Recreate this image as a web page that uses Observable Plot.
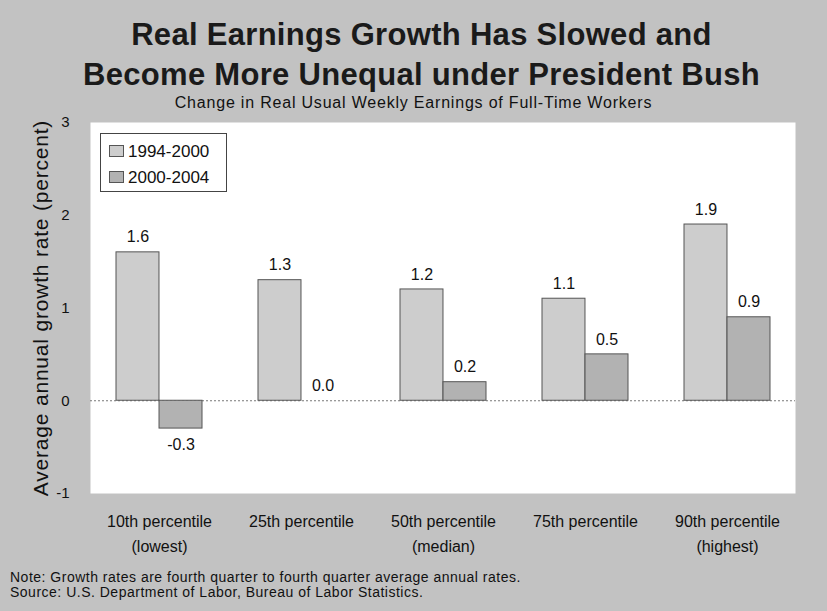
<!DOCTYPE html>
<html><head><meta charset="utf-8">
<script src="https://cdn.jsdelivr.net/npm/d3@7"></script>
<script src="https://cdn.jsdelivr.net/npm/@observablehq/plot@0.6"></script>
<style>
html,body{margin:0;padding:0;background:#c2c2c2;}
body{width:827px;height:611px;position:relative;overflow:hidden;font-family:"Liberation Sans",Arial,sans-serif;color:#111;}
#title{position:absolute;left:0;top:15px;width:827px;padding-left:16px;box-sizing:border-box;text-align:center;font-weight:bold;font-size:31px;letter-spacing:0.3px;line-height:40px;color:#1a1a1a;}
#subtitle{position:absolute;left:0;top:95px;width:827px;text-align:center;font-size:16px;letter-spacing:0.8px;line-height:16px;}
#chart{position:absolute;left:0;top:112px;}
#chart g[aria-label="y-axis label"] text{letter-spacing:0.8px;}
#legend{position:absolute;left:100px;top:133px;width:127px;height:59px;background:#fff;border:1px solid #444;box-sizing:border-box;font-size:17px;}
#legend div{position:absolute;left:8px;height:20px;line-height:20px;}
#legend span{display:inline-block;width:13px;height:10px;border:1px solid #555;margin-right:4px;vertical-align:0px;}
#notes{position:absolute;left:10px;top:570px;font-size:14px;letter-spacing:0.5px;line-height:15px;}
</style></head>
<body>
<div id="title">Real Earnings Growth Has Slowed and<br>Become More Unequal under President Bush</div>
<div id="subtitle">Change in Real Usual Weekly Earnings of Full-Time Workers</div>
<div id="chart"></div>
<div id="legend"></div>
<div id="notes">Note: Growth rates are fourth quarter to fourth quarter average annual rates.<br>Source: U.S. Department of Labor, Bureau of Labor Statistics.</div>
<script>
const groups = ["10th percentile\n(lowest)", "25th percentile", "50th percentile\n(median)", "75th percentile", "90th percentile\n(highest)"];
const series = ["1994-2000", "2000-2004"];
const values1994_2000 = [1.6, 1.3, 1.2, 1.1, 1.9];
const values2000_2004 = [-0.3, 0.0, 0.2, 0.5, 0.9];
const yTicks = [-1, 0, 1, 2, 3];
const colors = ["#cdcdcd", "#b2b2b2"];

const W = 827, H = 450, mL = 90, mR = 32, mT = 10, mB = 69;
const pIn = 0.395, pOut = 0.176;
const bw = d3.scaleBand().domain(groups).range([mL, W - mR]).paddingInner(pIn).paddingOuter(pOut).bandwidth();
const half = bw / 2;

const d1 = groups.map((g, i) => ({group: g, series: series[0], value: values1994_2000[i]}));
const d2 = groups.map((g, i) => ({group: g, series: series[1], value: values2000_2004[i]}));

const font = "'Liberation Sans', Arial, sans-serif";
const labelMarks = [];
[[d1, -half / 2], [d2, half / 2]].forEach(([arr, dx]) => {
  labelMarks.push(Plot.text(arr.filter(d => d.value >= 0), {x: "group", y: "value", text: d => d.value.toFixed(1), dx, dy: -15, fontSize: 16}));
  labelMarks.push(Plot.text(arr.filter(d => d.value < 0), {x: "group", y: "value", text: d => d.value.toFixed(1), dx, dy: 16, fontSize: 16}));
});

const plot = Plot.plot({
  width: W,
  height: H,
  marginTop: mT,
  marginBottom: mB,
  marginLeft: mL,
  marginRight: mR,
  style: {fontFamily: font, background: "transparent", color: "#111"},
  x: {domain: groups, paddingInner: pIn, paddingOuter: pOut, label: null},
  y: {domain: [-1, 3], label: null},
  color: {domain: series, range: colors},
  marks: [
    Plot.frame({fill: "white", stroke: "none"}),
    Plot.axisX({anchor: "bottom", tickSize: 0, tickPadding: 16, fontSize: 16, lineHeight: 1.55, label: null}),
    Plot.axisY({ticks: yTicks, tickSize: 0, tickPadding: 21, fontSize: 15, label: null, tickFormat: d => String(d)}),
    Plot.axisY({ticks: [], tickSize: 0, label: "Average annual growth rate (percent)", labelAnchor: "center", labelArrow: "none", labelOffset: 57, fontSize: 21}),
    Plot.ruleY([0], {stroke: "#777", strokeDasharray: "2,2"}),
    Plot.barY(d1, {x: "group", y: "value", fill: "series", stroke: "#555", strokeWidth: 1, insetRight: half}),
    Plot.barY(d2, {x: "group", y: "value", fill: "series", stroke: "#555", strokeWidth: 1, insetLeft: half}),
    ...labelMarks
  ]
});
document.getElementById("chart").appendChild(plot);

const legend = document.getElementById("legend");
series.forEach((s, i) => {
  const row = document.createElement("div");
  row.style.top = (8 + i * 26) + "px";
  row.innerHTML = `<span style="background:${colors[i]}"></span>${s}`;
  legend.appendChild(row);
});
</script>
</body></html>
